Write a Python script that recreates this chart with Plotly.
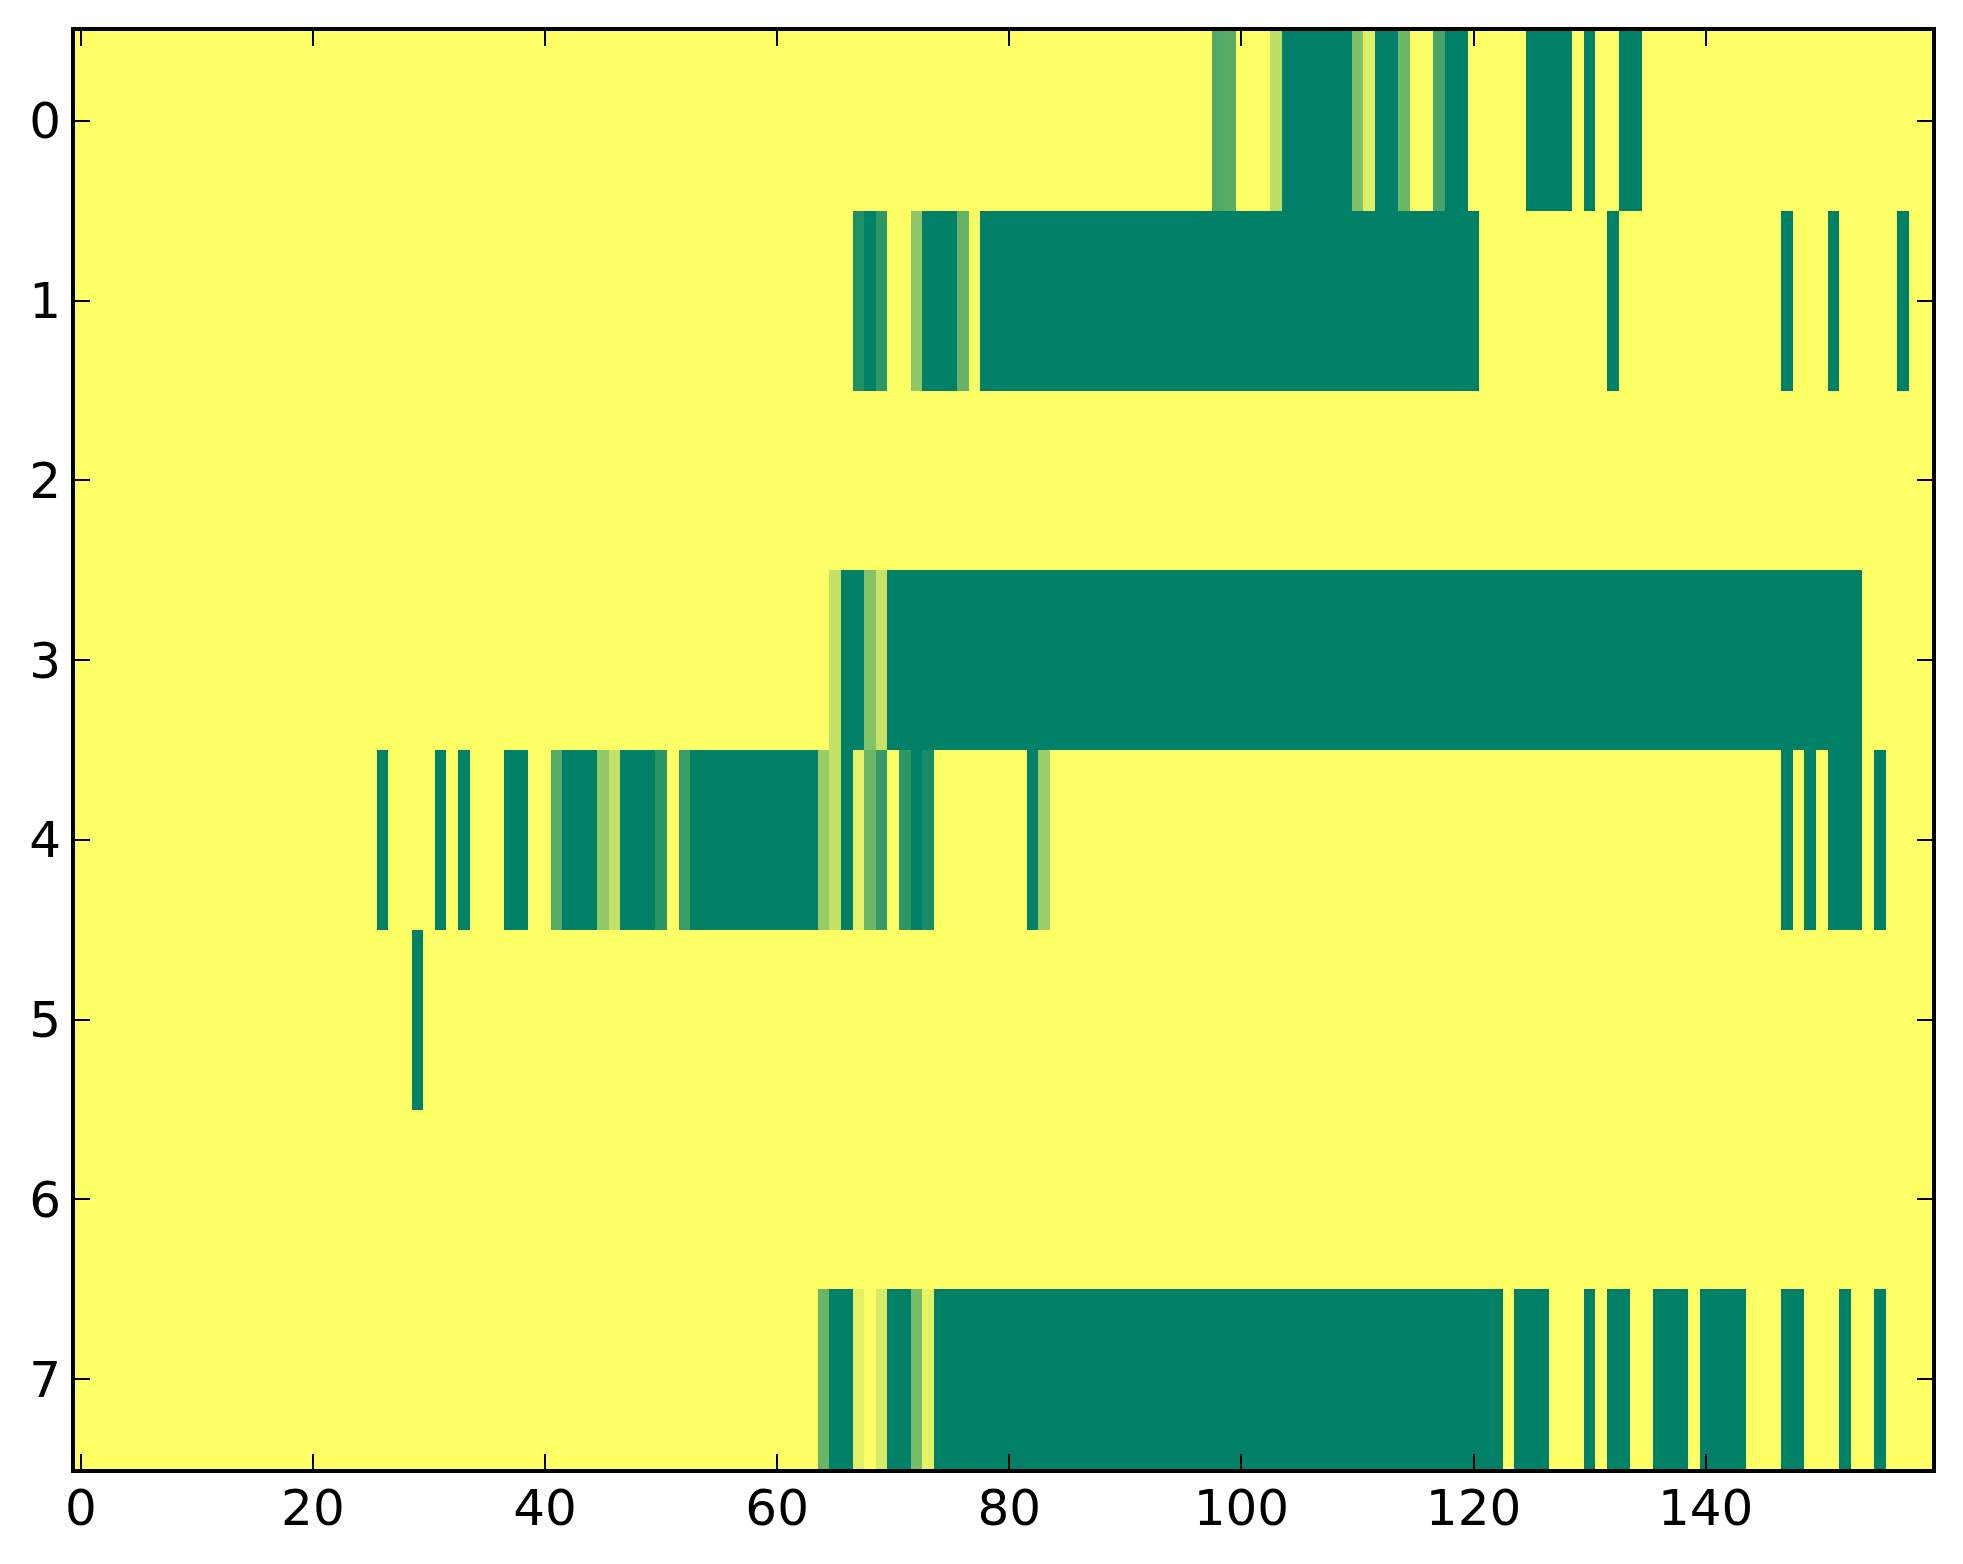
import plotly.graph_objects as go

# values, 8 rows x 160 columns (1 = yellow, 0 = dark green)
row_0 = [
    1, 1, 1, 1, 1, 1, 1, 1, 1, 1, 1, 1, 1, 1, 1, 1, 1, 1, 1, 1,
    1, 1, 1, 1, 1, 1, 1, 1, 1, 1, 1, 1, 1, 1, 1, 1, 1, 1, 1, 1,
    1, 1, 1, 1, 1, 1, 1, 1, 1, 1, 1, 1, 1, 1, 1, 1, 1, 1, 1, 1,
    1, 1, 1, 1, 1, 1, 1, 1, 1, 1, 1, 1, 1, 1, 1, 1, 1, 1, 1, 1,
    1, 1, 1, 1, 1, 1, 1, 1, 1, 1, 1, 1, 1, 1, 1, 1, 1, 1, .32, .35,
    1, 1, 1, .74, 0, 0, 0, 0, 0, 0, .5, .88, 0, 0, .43, 1, 1, .28, 0, 0,
    1, 1, 1, 1, 1, 0, 0, 0, 0, 1, 0, 1, 1, 0, 0, 1, 1, 1, 1, 1,
    1, 1, 1, 1, 1, 1, 1, 1, 1, 1, 1, 1, 1, 1, 1, 1, 1, 1, 1, 1,
]
row_1 = [
    1, 1, 1, 1, 1, 1, 1, 1, 1, 1, 1, 1, 1, 1, 1, 1, 1, 1, 1, 1,
    1, 1, 1, 1, 1, 1, 1, 1, 1, 1, 1, 1, 1, 1, 1, 1, 1, 1, 1, 1,
    1, 1, 1, 1, 1, 1, 1, 1, 1, 1, 1, 1, 1, 1, 1, 1, 1, 1, 1, 1,
    1, 1, 1, 1, 1, 1, 1, .12, 0, .18, 1, 1, .55, 0, 0, 0, .4, .96, 0, 0,
    0, 0, 0, 0, 0, 0, 0, 0, 0, 0, 0, 0, 0, 0, 0, 0, 0, 0, 0, 0,
    0, 0, 0, 0, 0, 0, 0, 0, 0, 0, 0, 0, 0, 0, 0, 0, 0, 0, 0, 0,
    0, 1, 1, 1, 1, 1, 1, 1, 1, 1, 1, 1, 0, 1, 1, 1, 1, 1, 1, 1,
    1, 1, 1, 1, 1, 1, 1, 0, 1, 1, 1, 0, 1, 1, 1, 1, 1, 0, 1, 1,
]
row_2 = [
    1, 1, 1, 1, 1, 1, 1, 1, 1, 1, 1, 1, 1, 1, 1, 1, 1, 1, 1, 1,
    1, 1, 1, 1, 1, 1, 1, 1, 1, 1, 1, 1, 1, 1, 1, 1, 1, 1, 1, 1,
    1, 1, 1, 1, 1, 1, 1, 1, 1, 1, 1, 1, 1, 1, 1, 1, 1, 1, 1, 1,
    1, 1, 1, 1, 1, 1, 1, 1, 1, 1, 1, 1, 1, 1, 1, 1, 1, 1, 1, 1,
    1, 1, 1, 1, 1, 1, 1, 1, 1, 1, 1, 1, 1, 1, 1, 1, 1, 1, 1, 1,
    1, 1, 1, 1, 1, 1, 1, 1, 1, 1, 1, 1, 1, 1, 1, 1, 1, 1, 1, 1,
    1, 1, 1, 1, 1, 1, 1, 1, 1, 1, 1, 1, 1, 1, 1, 1, 1, 1, 1, 1,
    1, 1, 1, 1, 1, 1, 1, 1, 1, 1, 1, 1, 1, 1, 1, 1, 1, 1, 1, 1,
]
row_3 = [
    1, 1, 1, 1, 1, 1, 1, 1, 1, 1, 1, 1, 1, 1, 1, 1, 1, 1, 1, 1,
    1, 1, 1, 1, 1, 1, 1, 1, 1, 1, 1, 1, 1, 1, 1, 1, 1, 1, 1, 1,
    1, 1, 1, 1, 1, 1, 1, 1, 1, 1, 1, 1, 1, 1, 1, 1, 1, 1, 1, 1,
    1, 1, 1, 1, 1, .77, 0, 0, .52, .78, 0, 0, 0, 0, 0, 0, 0, 0, 0, 0,
    0, 0, 0, 0, 0, 0, 0, 0, 0, 0, 0, 0, 0, 0, 0, 0, 0, 0, 0, 0,
    0, 0, 0, 0, 0, 0, 0, 0, 0, 0, 0, 0, 0, 0, 0, 0, 0, 0, 0, 0,
    0, 0, 0, 0, 0, 0, 0, 0, 0, 0, 0, 0, 0, 0, 0, 0, 0, 0, 0, 0,
    0, 0, 0, 0, 0, 0, 0, 0, 0, 0, 0, 0, 0, 0, 1, 1, 1, 1, 1, 1,
]
row_4 = [
    1, 1, 1, 1, 1, 1, 1, 1, 1, 1, 1, 1, 1, 1, 1, 1, 1, 1, 1, 1,
    1, 1, 1, 1, 1, 1, 0, 1, 1, 1, 1, 0, 1, 0, 1, 1, 1, 0, 0, 1,
    1, .34, 0, 0, 0, .57, .77, 0, 0, 0, .16, 1, .22, 0, 0, 0, 0, 0, 0, 0,
    0, 0, 0, 0, .6, .77, 0, .9, .42, .2, 1, .18, 0, .1, 1, 1, 1, 1, 1, 1,
    1, 1, 0, .61, 1, 1, 1, 1, 1, 1, 1, 1, 1, 1, 1, 1, 1, 1, 1, 1,
    1, 1, 1, 1, 1, 1, 1, 1, 1, 1, 1, 1, 1, 1, 1, 1, 1, 1, 1, 1,
    1, 1, 1, 1, 1, 1, 1, 1, 1, 1, 1, 1, 1, 1, 1, 1, 1, 1, 1, 1,
    1, 1, 1, 1, 1, 1, 1, 0, 1, 0, 1, 0, 0, 0, 1, 0, 1, 1, 1, 1,
]
row_5 = [
    1, 1, 1, 1, 1, 1, 1, 1, 1, 1, 1, 1, 1, 1, 1, 1, 1, 1, 1, 1,
    1, 1, 1, 1, 1, 1, 1, 1, 1, 0, 1, 1, 1, 1, 1, 1, 1, 1, 1, 1,
    1, 1, 1, 1, 1, 1, 1, 1, 1, 1, 1, 1, 1, 1, 1, 1, 1, 1, 1, 1,
    1, 1, 1, 1, 1, 1, 1, 1, 1, 1, 1, 1, 1, 1, 1, 1, 1, 1, 1, 1,
    1, 1, 1, 1, 1, 1, 1, 1, 1, 1, 1, 1, 1, 1, 1, 1, 1, 1, 1, 1,
    1, 1, 1, 1, 1, 1, 1, 1, 1, 1, 1, 1, 1, 1, 1, 1, 1, 1, 1, 1,
    1, 1, 1, 1, 1, 1, 1, 1, 1, 1, 1, 1, 1, 1, 1, 1, 1, 1, 1, 1,
    1, 1, 1, 1, 1, 1, 1, 1, 1, 1, 1, 1, 1, 1, 1, 1, 1, 1, 1, 1,
]
row_6 = [
    1, 1, 1, 1, 1, 1, 1, 1, 1, 1, 1, 1, 1, 1, 1, 1, 1, 1, 1, 1,
    1, 1, 1, 1, 1, 1, 1, 1, 1, 1, 1, 1, 1, 1, 1, 1, 1, 1, 1, 1,
    1, 1, 1, 1, 1, 1, 1, 1, 1, 1, 1, 1, 1, 1, 1, 1, 1, 1, 1, 1,
    1, 1, 1, 1, 1, 1, 1, 1, 1, 1, 1, 1, 1, 1, 1, 1, 1, 1, 1, 1,
    1, 1, 1, 1, 1, 1, 1, 1, 1, 1, 1, 1, 1, 1, 1, 1, 1, 1, 1, 1,
    1, 1, 1, 1, 1, 1, 1, 1, 1, 1, 1, 1, 1, 1, 1, 1, 1, 1, 1, 1,
    1, 1, 1, 1, 1, 1, 1, 1, 1, 1, 1, 1, 1, 1, 1, 1, 1, 1, 1, 1,
    1, 1, 1, 1, 1, 1, 1, 1, 1, 1, 1, 1, 1, 1, 1, 1, 1, 1, 1, 1,
]
row_7 = [
    1, 1, 1, 1, 1, 1, 1, 1, 1, 1, 1, 1, 1, 1, 1, 1, 1, 1, 1, 1,
    1, 1, 1, 1, 1, 1, 1, 1, 1, 1, 1, 1, 1, 1, 1, 1, 1, 1, 1, 1,
    1, 1, 1, 1, 1, 1, 1, 1, 1, 1, 1, 1, 1, 1, 1, 1, 1, 1, 1, 1,
    1, 1, 1, 1, .42, 0, 0, .89, 1, .84, 0, 0, .47, .9, 0, 0, 0, 0, 0, 0,
    0, 0, 0, 0, 0, 0, 0, 0, 0, 0, 0, 0, 0, 0, 0, 0, 0, 0, 0, 0,
    0, 0, 0, 0, 0, 0, 0, 0, 0, 0, 0, 0, 0, 0, 0, 0, 0, 0, 0, 0,
    0, 0, 0, 1, 0, 0, 0, 1, 1, 1, 0, 1, 0, 0, 1, 1, 0, 0, 0, 1,
    0, 0, 0, 0, 1, 1, 1, 0, 0, 1, 1, 1, 0, 1, 1, 0, 1, 1, 1, 1,
]

rows = [row_0, row_1, row_2, row_3, row_4, row_5, row_6, row_7]
x_ticks = [0, 20, 40, 60, 80, 100, 120, 140]
y_ticks = [0, 1, 2, 3, 4, 5, 6, 7]

# matplotlib "summer" colormap
summer = [[0.0, "rgb(0,128,102)"], [1.0, "rgb(255,255,102)"]]


def make_figure():
    fig = go.Figure(go.Heatmap(
        z=rows,
        colorscale=summer,
        zmin=0,
        zmax=1,
        showscale=False,
        hoverongaps=False,
    ))

    axis_style = dict(
        showline=True,
        linewidth=4,
        linecolor="black",
        mirror="allticks",
        ticks="inside",
        ticklen=15,
        tickwidth=2,
        tickcolor="black",
        showgrid=False,
        zeroline=False,
        automargin=False,
        tickfont=dict(family="DejaVu Sans", size=50, color="black"),
    )
    fig.update_xaxes(range=[-0.5, 159.5], tickvals=x_ticks,
                     ticklabelstandoff=-8, **axis_style)
    fig.update_yaxes(range=[7.5, -0.5], tickvals=y_ticks, **axis_style)

    # the page body adds an 8px offset, so the figure is 8px smaller
    fig.update_layout(
        width=1955,
        height=1556,
        margin=dict(l=67, r=31, t=23, b=95),
        paper_bgcolor="white",
        plot_bgcolor="white",
    )
    return fig


def main():
    fig = make_figure()
    fig.write_html("out.html")


if __name__ == "__main__":
    main()
